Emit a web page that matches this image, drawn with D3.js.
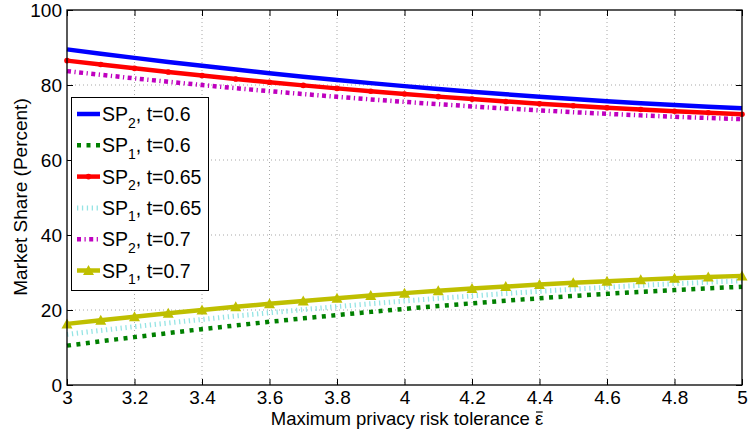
<!DOCTYPE html>
<html><head><meta charset="utf-8">
<script src="https://cdn.jsdelivr.net/npm/d3@7"></script>
<style>body{margin:0;background:#fff}svg{display:block;font-family:"Liberation Sans",Arial,Helvetica,sans-serif}</style>
</head><body><svg id="c" width="749" height="434"></svg>
<script>
const xs = [3.0,3.1,3.2,3.3,3.4,3.5,3.6,3.7,3.8,3.9,4.0,4.1,4.2,4.3,4.4,4.5,4.6,4.7,4.8,4.9,5.0];
const sp2_t060 = [89.5,88.34,87.23,86.15,85.11,84.11,83.15,82.23,81.35,80.50,79.7,78.93,78.21,77.52,76.87,76.26,75.69,75.16,74.67,74.21,73.8];
const sp1_t060 = [10.5,11.66,12.77,13.85,14.89,15.89,16.85,17.77,18.65,19.5,20.3,21.07,21.79,22.48,23.13,23.74,24.31,24.84,25.33,25.79,26.2];
const sp2_t065 = [86.5,85.45,84.44,83.46,82.52,81.61,80.74,79.90,79.10,78.33,77.6,76.90,76.24,75.61,75.02,74.46,73.94,73.45,73.0,72.58,72.2];
const sp1_t065 = [13.5,14.55,15.56,16.54,17.48,18.39,19.26,20.1,20.9,21.67,22.4,23.1,23.76,24.39,24.98,25.54,26.06,26.55,27.0,27.42,27.8];
const sp2_t070 = [83.7,82.72,81.77,80.86,79.99,79.15,78.35,77.58,76.85,76.16,75.5,74.88,74.29,73.74,73.23,72.75,72.31,71.90,71.53,71.20,70.9];
const sp1_t070 = [16.3,17.28,18.23,19.14,20.01,20.85,21.65,22.42,23.15,23.84,24.5,25.12,25.71,26.26,26.77,27.25,27.69,28.1,28.47,28.8,29.1];
const xTicks = [3,3.2,3.4,3.6,3.8,4,4.2,4.4,4.6,4.8,5];
const yTicks = [0,20,40,60,80,100];
const seriesNames = ["SP2, t=0.6","SP1, t=0.6","SP2, t=0.65","SP1, t=0.65","SP2, t=0.7","SP1, t=0.7"];

const W=749,H=434, L=67,R=742,T=10,B=385;
const svg=d3.select("#c");
const x=d3.scaleLinear().domain([3,5]).range([L,R]);
const y=d3.scaleLinear().domain([0,100]).range([B,T]);

// grid
const g=svg.append("g");
g.selectAll(".gx").data(xTicks.slice(1,-1)).enter().append("line")
 .attr("x1",d=>x(d)).attr("x2",d=>x(d)).attr("y1",T).attr("y2",B)
 .attr("stroke","#a8a8a8").attr("stroke-width",1).attr("stroke-dasharray","1,3");
g.selectAll(".gy").data(yTicks.slice(1,-1)).enter().append("line")
 .attr("y1",d=>y(d)).attr("y2",d=>y(d)).attr("x1",L).attr("x2",R)
 .attr("stroke","#a8a8a8").attr("stroke-width",1).attr("stroke-dasharray","1,3");

const styles=[
 {data:sp2_t060,color:"#0000ff",w:4.5,dash:null,marker:null},
 {data:sp1_t060,color:"#008000",w:4.5,dash:"4,5.5",marker:null},
 {data:sp2_t065,color:"#ff0000",w:4.5,dash:null,marker:"dot"},
 {data:sp1_t065,color:"#95e4e4",w:5,dash:"1.3,3.6",marker:null},
 {data:sp2_t070,color:"#bf00bf",w:4.5,dash:"4,3.5,1.2,3.5",marker:null},
 {data:sp1_t070,color:"#bfbf00",w:4.5,dash:null,marker:"tri"}
];
const tri="M0,-5.5L5.5,4.5L-5.5,4.5Z";
const line=d3.line().x((d,i)=>x(xs[i])).y(d=>y(d));
const plot=svg.append("g");
styles.forEach(s=>{
  const p=plot.append("path").datum(s.data).attr("d",line).attr("fill","none")
   .attr("stroke",s.color).attr("stroke-width",s.w);
  if(s.dash) p.attr("stroke-dasharray",s.dash);
  if(s.marker==="dot"){
    plot.selectAll(null).data(s.data).enter().append("circle")
     .attr("cx",(d,i)=>x(xs[i])).attr("cy",d=>y(d)).attr("r",2.8).attr("fill",s.color);
  } else if(s.marker==="tri"){
    plot.selectAll(null).data(s.data).enter().append("path").attr("d",tri)
     .attr("transform",(d,i)=>`translate(${x(xs[i])},${y(d)})`).attr("fill",s.color);
  }
});

// axes box and ticks
const FS=19;
const ax=svg.append("g");
ax.append("rect").attr("x",L).attr("y",T).attr("width",R-L).attr("height",B-T)
 .attr("fill","none").attr("stroke","#000").attr("stroke-width",1.3);
ax.append("g").attr("transform",`translate(0,${B})`)
 .call(d3.axisBottom(x).tickValues(xTicks).tickSizeInner(-6).tickSizeOuter(0).tickPadding(5.5).tickFormat(d3.format("")));
ax.append("g").attr("transform",`translate(${L},0)`)
 .call(d3.axisLeft(y).tickValues(yTicks).tickSizeInner(-6).tickSizeOuter(0).tickPadding(5));
ax.append("g").attr("transform",`translate(0,${T})`)
 .call(d3.axisTop(x).tickValues(xTicks).tickSizeInner(-6).tickSizeOuter(0).tickFormat(""));
ax.append("g").attr("transform",`translate(${R},0)`)
 .call(d3.axisRight(y).tickValues(yTicks).tickSizeInner(-6).tickSizeOuter(0).tickFormat(""));
ax.selectAll(".domain").remove();
ax.selectAll(".tick line").attr("stroke","#000").attr("stroke-width",1);
ax.selectAll(".tick text").attr("font-size",FS).attr("fill","#000").attr("font-family","Liberation Sans, Arial, sans-serif");

// axis labels
const XLB=424.5;
const xl=svg.append("text").attr("x",407).attr("y",XLB).attr("text-anchor","middle")
 .attr("font-size",18.5).text("Maximum privacy risk tolerance \u03B5");
{
  const n=xl.node(); const k=n.getNumberOfChars()-1;
  const e=n.getExtentOfChar(k);
  svg.append("line").attr("x1",e.x+1).attr("x2",e.x+e.width-0.5).attr("y1",XLB-12.5).attr("y2",XLB-12.5)
   .attr("stroke","#000").attr("stroke-width",1.2);
}
svg.append("text").attr("transform","translate(27,197) rotate(-90)").attr("text-anchor","middle")
 .attr("font-size",FS).text("Market Share (Percent)");

// legend
const lg=svg.append("g");
lg.append("rect").attr("x",71.5).attr("y",97.5).attr("width",137).attr("height",193)
 .attr("fill","#fff").attr("stroke","#000").attr("stroke-width",1);
const ly0=114, lstep=31.3;
styles.forEach((s,i)=>{
  const cy=ly0+i*lstep;
  const p=lg.append("line").attr("x1",77).attr("x2",100).attr("y1",cy).attr("y2",cy)
   .attr("stroke",s.color).attr("stroke-width",s.w);
  if(s.dash) p.attr("stroke-dasharray",s.dash);
  if(s.marker==="dot") lg.append("circle").attr("cx",88.5).attr("cy",cy).attr("r",2.8).attr("fill",s.color);
  if(s.marker==="tri") lg.append("path").attr("d",tri).attr("transform",`translate(88.5,${cy})`).attr("fill",s.color);
  const parts=seriesNames[i].match(/^(SP)(\d)(.*)$/);
  const t=lg.append("text").attr("x",102).attr("y",cy+7).attr("font-size",19.5);
  t.append("tspan").text(parts[1]);
  t.append("tspan").attr("font-size",14).attr("dy",6.5).text(parts[2]);
  t.append("tspan").attr("dy",-6.5).text(parts[3]);
});
</script></body></html>
